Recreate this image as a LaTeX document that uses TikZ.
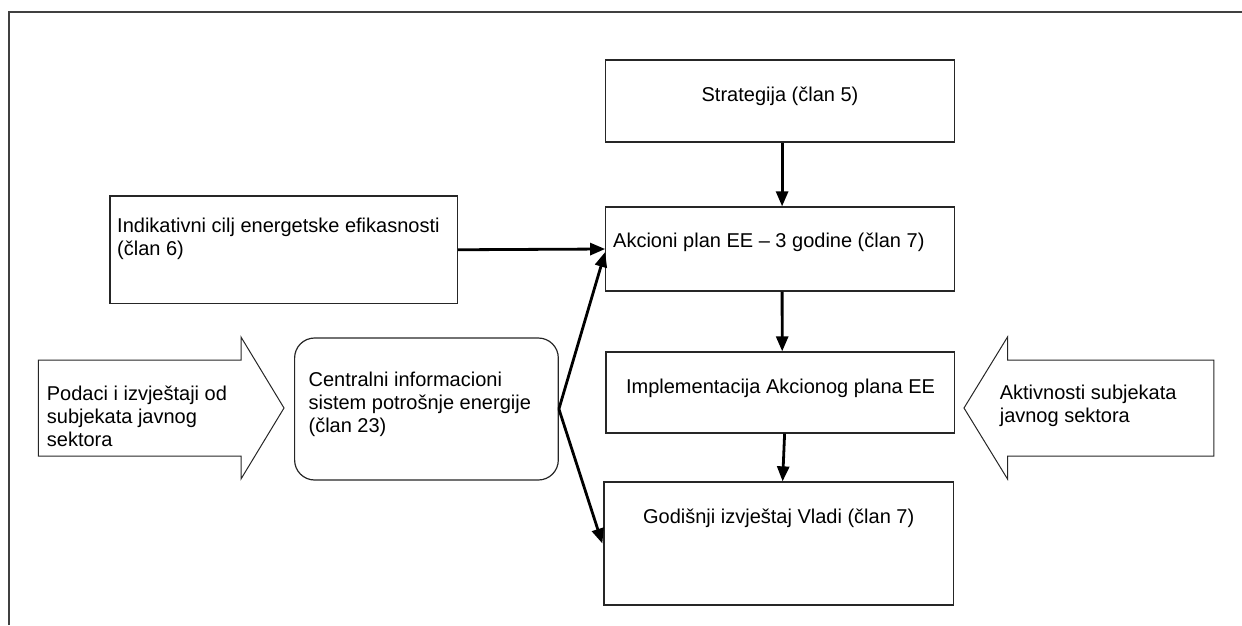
\documentclass[tikz,border=0pt]{standalone}
\usepackage{fontspec}
\setmainfont{Liberation Sans}
\usetikzlibrary{arrows.meta}
\begin{document}
\begin{tikzpicture}[x=1pt,y=-1pt,
  box/.style={draw=black!85,line width=1.3pt,rectangle,inner sep=0pt},
  rbox/.style={draw=black!85,line width=1.2pt,rectangle,rounded corners=20pt,inner sep=0pt},
  txt/.style={inner sep=0pt,align=left,font=\fontsize{20}{23}\selectfont},
  ctxt/.style={inner sep=0pt,align=center,font=\fontsize{20}{23}\selectfont},
  flow/.style={line width=2.8pt,-{Triangle[length=15pt,width=12pt]},shorten >=0pt},
  blockarrow/.style={draw=black!85,line width=1pt,line join=miter},
  frame/.style={draw=black!75,line width=2pt}]
\useasboundingbox (0,0) rectangle (1242,625);
% frame
\draw[frame] (8.7,625) -- (8.7,11.7) -- (1242,11.7);
% boxes
\node[box,minimum width=348.6pt,minimum height=82pt] (strat) at (780.1,101) {};
\node[ctxt] (strat-t) at (780,96) {Strategija (član 5)};
\node[box,minimum width=348.6pt,minimum height=84pt] (akc) at (780.1,249) {};
\node[txt,anchor=west] (akc-t) at (613,242) {Akcioni plan EE – 3 godine (član 7)};
\node[box,minimum width=348.4pt,minimum height=81pt] (impl) at (780.2,392.5) {};
\node[ctxt] (impl-t) at (780.6,388) {Implementacija Akcionog plana EE};
\node[box,minimum width=349.2pt,minimum height=123pt] (god) at (778.6,543.5) {};
\node[ctxt] (god-t) at (778.7,518) {Godišnji izvještaj Vladi (član 7)};
\node[box,minimum width=347.5pt,minimum height=107.5pt] (indik) at (283.75,249.75) {};
\node[txt,anchor=west] (indik-t) at (117,238.5) {Indikativni cilj energetske efikasnosti\\(član 6)};
\node[rbox,minimum width=263.7pt,minimum height=142pt] (cent) at (426.45,409) {};
\node[txt,anchor=west] (cent-t) at (308.4,404.5) {Centralni informacioni\\sistem potrošnje energije\\(član 23)};
% block arrows
\draw[blockarrow] (38.4,360) -- (241,360) -- (241,337) -- (284,408) -- (241,479) -- (241,456) -- (38.4,456) -- cycle;
\node[txt,anchor=west] (left-t) at (46.7,416) {Podaci i izvještaji od\\subjekata javnog\\sektora};
\draw[blockarrow] (1213.8,360) -- (1007.5,360) -- (1007.5,337) -- (964,408) -- (1007.5,479) -- (1007.5,456) -- (1213.8,456) -- cycle;
\node[txt,anchor=west] (right-t) at (999.6,405.5) {Aktivnosti subjekata\\javnog sektora};
% connectors
\draw[flow] ([xshift=2pt]strat.south) -- ([xshift=2pt]akc.north);
\draw[flow] (indik.east) -- (akc.west);
\draw[flow] (cent.east) -- ([yshift=-3pt]akc.west);
\draw[flow] (cent.east) -- ([xshift=-1pt]god.west);
\draw[flow] ([xshift=2pt]akc.south) -- ([xshift=2pt]impl.north);
\draw[flow] ([xshift=4.4pt]impl.south) -- ([xshift=4pt]god.north);
\end{tikzpicture}
\end{document}
